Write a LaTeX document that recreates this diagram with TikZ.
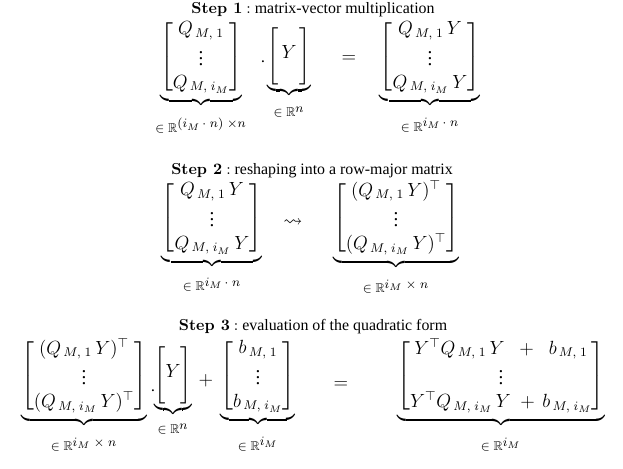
\documentclass[tikz,border=0pt]{standalone}
\usepackage{amsmath,amssymb}
\usepackage[no-math]{fontspec}
\setmainfont{Liberation Serif}
\newfontfamily\cmroman{Latin Modern Roman}
\usetikzlibrary{positioning}

\newcommand{\steplabel}[1]{{\cmroman\bfseries Step #1} {\cmroman:}\ }
\newcommand{\domR}[1]{$\scriptstyle\in\;\mathbb{R}^{\scriptstyle #1}$}
\setlength{\arraycolsep}{8.5pt}

\begin{document}
\begin{tikzpicture}[
  x=0.629pt, y=-0.629pt,
  steptitle/.style={inner sep=0pt, font=\normalsize},
  term/.style={inner sep=0pt, anchor=north, font=\large},
  oper/.style={inner sep=0pt, font=\large},
  dom/.style={inner sep=0pt, font=\large},
]
  \useasboundingbox (0,0) rectangle (623,468);

  % step 1
  \node[steptitle] (title1) at (313,10) {\steplabel{1}matrix-vector multiplication};
  \node[term] (qmat) at (201,19) {$\underbrace{\begin{bmatrix} Q_{\,M,\;1}\\ \vdots\\ Q_{\,M,\;i_M}\end{bmatrix}}$};
  \node[oper] (dot1) at (263,62) {$\cdot$};
  \node[term] (yvec1) at (289,27) {$\underbrace{\begin{bmatrix}\rule[-16pt]{0pt}{35pt}\,Y\,\end{bmatrix}}$};
  \node[oper] (eq1) at (349,59) {$=$};
  \node[term] (qy1) at (430,19) {$\underbrace{\begin{bmatrix} Q_{\,M,\;1}\,Y\\ \vdots\\ Q_{\,M,\;i_M}\,Y\end{bmatrix}}$};
  \node[dom, below=7pt of qmat] {\domR{(i_M\,\cdot\; n)\;\times n}};
  \node[dom, below=6pt of yvec1] {\domR{n}};
  \node[dom, below=7pt of qy1] {\domR{i_M\,\cdot\; n}};

  % step 2
  \node[steptitle] (title2) at (312,171) {\steplabel{2}reshaping into a row-major matrix};
  \node[term] (qy2) at (212,180) {$\underbrace{\begin{bmatrix} Q_{\,M,\;1}\,Y\\ \vdots\\ Q_{\,M,\;i_M}\,Y\end{bmatrix}}$};
  \node[oper] (leads) at (293,223) {$\rightsquigarrow$};
  \node[term] (qyt2) at (396,180) {$\underbrace{\begin{bmatrix} (Q_{\,M,\;1}\,Y)^\top\\ \vdots\\ (Q_{\,M,\;i_M}\,Y)^\top\end{bmatrix}}$};
  \node[dom, below=6pt of qy2] {\domR{i_M\,\cdot\; n}};
  \node[dom, below=7pt of qyt2] {\domR{i_M\;\times\; n}};

  % step 3
  \node[steptitle] (title3) at (313,327) {\steplabel{3}evaluation of the quadratic form};
  \node[term] (qyt3) at (84,338) {$\underbrace{\begin{bmatrix} (Q_{\,M,\;1}\,Y)^\top\\ \vdots\\ (Q_{\,M,\;i_M}\,Y)^\top\end{bmatrix}}$};
  \node[oper] (dot3) at (153,391) {$\cdot$};
  \node[term] (yvec3) at (173,346) {$\underbrace{\begin{bmatrix}\rule[-16pt]{0pt}{35pt}Y\end{bmatrix}}$};
  \node[oper] (plus) at (206,381) {$+$};
  \node[term] (bvec) at (258,338) {$\underbrace{\begin{bmatrix} b_{\,M,\;1}\\ \vdots\\ b_{\,M,\;i_M}\end{bmatrix}}$};
  \node[oper] (eq3) at (341,385) {$=$};
  \node[term] (quad) at (501,338) {$\underbrace{\begin{bmatrix} Y^\top Q_{\,M,\;1}\,Y\;\;+\;\;b_{\,M,\;1}\\ \vdots\\ Y^\top Q_{\,M,\;i_M}\,Y\;+\,b_{\,M,\;i_M}\end{bmatrix}}$};
  \node[dom, below=7pt of qyt3] {\domR{i_M\;\times\; n}};
  \node[dom, below=5pt of yvec3] {\domR{n}};
  \node[dom, below=7pt of bvec] {\domR{i_M}};
  \node[dom, below=7pt of quad] {\domR{i_M}};
\end{tikzpicture}
\end{document}
